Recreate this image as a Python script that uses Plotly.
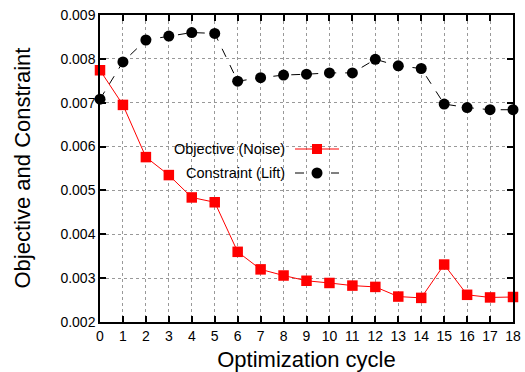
import plotly.graph_objects as go

cycles = list(range(19))
objective = [0.00774, 0.00695, 0.00576, 0.00535, 0.00484, 0.00473, 0.00360, 0.00320,
             0.00306, 0.00294, 0.00289, 0.00283, 0.00280, 0.00258, 0.00255, 0.00331,
             0.00262, 0.00256, 0.00257]
constraint = [0.00708, 0.00793, 0.00843, 0.00852, 0.00860, 0.00858, 0.00749, 0.00757,
              0.00763, 0.00765, 0.00768, 0.00768, 0.00799, 0.00784, 0.00778, 0.00697,
              0.00689, 0.00684, 0.00684]
y_ticks = [0.002, 0.003, 0.004, 0.005, 0.006, 0.007, 0.008, 0.009]
y_ticklabels = ["0.002", "0.003", "0.004", "0.005", "0.006", "0.007", "0.008", "0.009"]
legend_labels = ["Objective (Noise)", "Constraint (Lift)"]
x_title = "Optimization cycle"
y_title = "Objective and Constraint"

FONT = "Liberation Sans, Arial, sans-serif"

fig = go.Figure()
fig.add_trace(go.Scatter(
    x=cycles, y=constraint, mode="lines+markers", name=legend_labels[1],
    line=dict(color="black", width=1, dash="dash"),
    marker=dict(symbol="circle", size=11, color="black"),
    showlegend=False, cliponaxis=False))
fig.add_trace(go.Scatter(
    x=cycles, y=objective, mode="lines+markers", name=legend_labels[0],
    line=dict(color="#ff0000", width=1),
    marker=dict(symbol="square", size=10.5, color="#ff0000"),
    showlegend=False, cliponaxis=False))

# white legend box hiding the grid
fig.add_shape(type="rect", xref="paper", yref="paper", layer="between",
              x0=(163 - 100) / 413, x1=(347 - 100) / 413,
              y0=(322 - 185) / 307, y1=(322 - 138) / 307,
              fillcolor="white", line=dict(width=0))

# custom gnuplot-style legend (text left, key right)
def py(pix):
    return (322 - pix) / 307

def px(pix):
    return (pix - 100) / 413

rows = [(149, "#ff0000", "solid", "square"), (173, "black", "dash", "circle")]
for (ypix, col, dash, sym), lab in zip(rows, legend_labels):
    fig.add_annotation(xref="paper", yref="paper", x=px(287), y=py(ypix),
                       text=lab, showarrow=False, xanchor="right", yanchor="middle",
                       font=dict(family=FONT, size=14.5, color="black"))
    fig.add_shape(type="line", xref="paper", yref="paper",
                  x0=px(295), x1=px(339), y0=py(ypix), y1=py(ypix),
                  line=dict(color=col, width=1, dash=dash))
    if sym == "square":
        fig.add_shape(type="rect", xref="paper", yref="paper",
                      x0=px(312), x1=px(322), y0=py(ypix + 5), y1=py(ypix - 5),
                      fillcolor=col, line=dict(width=0))
    else:
        fig.add_shape(type="circle", xref="paper", yref="paper",
                      x0=px(311.5), x1=px(322.5), y0=py(ypix + 5.5), y1=py(ypix - 5.5),
                      fillcolor=col, line=dict(width=0))

# y-axis title placed as in the reference
fig.add_annotation(xref="paper", yref="paper", x=px(22), y=py(168.5),
                   text=y_title, textangle=-90, showarrow=False,
                   xanchor="center", yanchor="middle",
                   font=dict(family=FONT, size=22, color="black"))

axis_common = dict(
    showline=True, linecolor="black", linewidth=1.5, mirror="allticks",
    ticks="inside", ticklen=6, tickwidth=1.5, tickcolor="black",
    showgrid=True, gridcolor="#999999", griddash="dot", gridwidth=1,
    zeroline=False, tickfont=dict(family=FONT, size=14, color="black"),
    automargin=False,
)

fig.update_xaxes(range=[0, 18], tickvals=cycles, ticktext=[str(c) for c in cycles],
                 title=dict(text=x_title, font=dict(family=FONT, size=22, color="black")),
                 **axis_common)
fig.update_yaxes(range=[0.002, 0.009], tickvals=y_ticks, ticktext=y_ticklabels,
                 **axis_common)

fig.update_layout(
    width=525, height=372,
    margin=dict(l=100, r=12, t=15, b=50),
    plot_bgcolor="white", paper_bgcolor="white",
    showlegend=False,
)

fig.write_html("out.html")
